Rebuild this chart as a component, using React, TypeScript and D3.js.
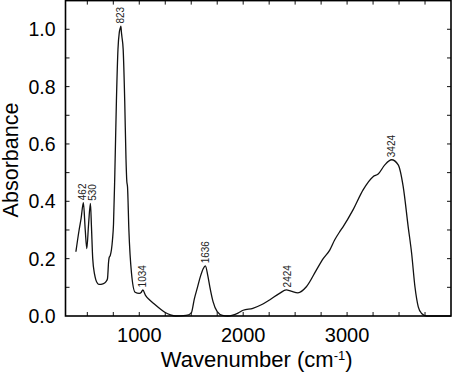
import React from "react";
import * as d3 from "d3";

const wavenumbers = [390, 421, 440, 462, 480, 495, 512, 530, 540, 552, 570, 582, 600, 614, 650, 680, 694, 705, 711, 720, 742, 752, 765, 780, 795, 808, 818, 823, 828, 833, 845, 860, 872, 880, 887, 900, 925, 960, 1000, 1020, 1034, 1060, 1100, 1150, 1200, 1250, 1300, 1350, 1450, 1500, 1530, 1560, 1590, 1615, 1636, 1660, 1680, 1710, 1750, 1800, 1850, 1900, 1950, 2000, 2093, 2180, 2254, 2350, 2415, 2460, 2527, 2608, 2704, 2770, 2833, 2880, 2929, 2961, 3057, 3154, 3250, 3299, 3363, 3428, 3492, 3540, 3588, 3621, 3653, 3685, 3717, 3766, 3850, 4000];
const absorbance = [0.224, 0.30, 0.34, 0.395, 0.30, 0.235, 0.32, 0.393, 0.31, 0.2, 0.145, 0.126, 0.113, 0.11, 0.112, 0.12, 0.13, 0.19, 0.205, 0.21, 0.265, 0.32, 0.5, 0.75, 0.93, 0.99, 1.005, 1.011, 0.99, 0.974, 0.93, 0.75, 0.55, 0.47, 0.45, 0.3, 0.15, 0.083, 0.079, 0.083, 0.091, 0.072, 0.056, 0.04, 0.025, 0.012, 0.004, 0.0, 0.002, 0.01, 0.06, 0.10, 0.14, 0.165, 0.175, 0.14, 0.1, 0.05, 0.015, 0.002, 0.0, 0.003, 0.01, 0.02, 0.027, 0.04, 0.056, 0.079, 0.091, 0.087, 0.081, 0.102, 0.16, 0.2, 0.23, 0.265, 0.294, 0.311, 0.37, 0.44, 0.486, 0.495, 0.527, 0.545, 0.527, 0.451, 0.311, 0.219, 0.102, 0.032, 0.009, 0.0, 0.0, 0.0];

const peakLabels = ["462", "530", "823", "1034", "1636", "2424", "3424"];
const peakPositions = [462, 530, 823, 1034, 1636, 2424, 3424];
const peakHeights = [0.395, 0.393, 1.011, 0.091, 0.175, 0.091, 0.545];

const xTickLabels = [1000, 2000, 3000];
const yTickLabels = [0.0, 0.2, 0.4, 0.6, 0.8, 1.0];

const W = 452;
const H = 373;
const L = 65.5;
const R = 451;
const T = 0.6;
const B = 316;

export default function App() {
  const x = d3.scaleLinear().domain([290, 4000]).range([L, R]);
  const y = d3.scaleLinear().domain([0, 1.1]).range([B, T]);
  const pts: [number, number][] = wavenumbers.map((w, i) => [w, absorbance[i]]);
  const line = d3
    .line<[number, number]>()
    .x((d) => x(d[0]))
    .y((d) => y(d[1]))
    .curve(d3.curveMonotoneX);

  const xMinor = d3.range(500, 4000, 250);
  const yMinor = d3.range(0.1, 1.1, 0.1);
  const tl = 4;
  const font = "Liberation Sans, Arial, Helvetica, sans-serif";

  return (
    <svg
      width={W}
      height={H}
      style={{ position: "absolute", left: 0, top: 0, background: "#fff" }}
      fontFamily={font}
    >
      <rect x={0} y={0} width={W} height={H} fill="#fff" />
      {xMinor.map((t) => (
        <g key={"xt" + t} stroke="#111" strokeWidth={1}>
          <line x1={x(t)} x2={x(t)} y1={B} y2={B - tl} />
          <line x1={x(t)} x2={x(t)} y1={T} y2={T + tl} />
        </g>
      ))}
      {yMinor.map((t) => (
        <g key={"yt" + t} stroke="#111" strokeWidth={1}>
          <line x1={L} x2={L + tl} y1={y(t)} y2={y(t)} />
          <line x1={R} x2={R - tl} y1={y(t)} y2={y(t)} />
        </g>
      ))}
      <path d={line(pts) || ""} fill="none" stroke="#111" strokeWidth={1.3} />
      <rect x={L} y={T} width={R - L} height={B - T} fill="none" stroke="#000" strokeWidth={1.6} />
      {xTickLabels.map((t) => (
        <text key={"xl" + t} x={x(t)} y={341.7} fontSize={20} textAnchor="middle" fill="#000">
          {t}
        </text>
      ))}
      {yTickLabels.map((t) => (
        <text key={"yl" + t} x={55.5} y={y(t) + 7} fontSize={19.5} textAnchor="end" fill="#000">
          {t.toFixed(1)}
        </text>
      ))}
      <text
        transform={`translate(${18},${160}) rotate(-90)`}
        fontSize={21.5}
        textAnchor="middle"
        fill="#000"
      >
        Absorbance
      </text>
      <text x={256.7} y={367} fontSize={22} textAnchor="middle" fill="#000">
        Wavenumber (cm<tspan baselineShift="super" fontSize={13}>-1</tspan>)
      </text>
      {peakLabels.map((lab, i) => {
        const px = x(peakPositions[i]) + (lab === "530" ? 1.5 : lab === "462" ? -1 : 0);
        const py = y(peakHeights[i]) - 2.5;
        return (
          <text
            key={"pk" + lab}
            transform={`translate(${px + 3.6},${py}) rotate(-90)`}
            fontSize={10}
            fill="#222"
          >
            {lab}
          </text>
        );
      })}
    </svg>
  );
}
